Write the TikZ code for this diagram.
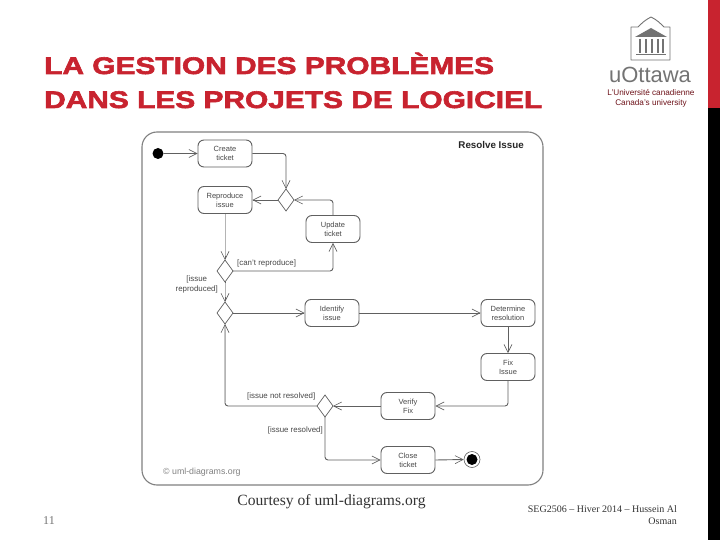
\documentclass[tikz,border=0pt]{standalone}
\usepackage{fontspec}
\setmainfont{Liberation Sans}
\newfontfamily\serifx{Liberation Serif}
\newfontfamily\titlef[FakeStretch=1.245,FakeBold=2.5]{Liberation Sans Bold}
\usetikzlibrary{arrows.meta}
\definecolor{linecol}{HTML}{606060}
\definecolor{lightline}{HTML}{B4B4B4}
\definecolor{lblcol}{HTML}{484848}
\definecolor{uored}{HTML}{C8232F}
\tikzset{
  x=1pt,y=-1pt,
  act/.style={draw=linecol,line width=0.9pt,rounded corners=6pt,minimum width=54pt,minimum height=27pt,inner sep=0pt,align=center,font=\fontsize{7.5}{9}\selectfont,text=lblcol},
  dia/.style={draw=linecol,line width=0.7pt},
  flow/.style={draw=linecol,line width=0.9pt,rounded corners=3pt,-{Straight Barb[length=8pt,width=8pt,line width=0.6pt]}},
  faded/.style={draw=lightline,line width=1pt},
  guard/.style={font=\fontsize{7.9}{9.5}\selectfont,text=lblcol,inner sep=0pt,align=center},
  titletxt/.style={font=\titlef\fontsize{24}{34}\selectfont,text=uored,inner sep=0pt,anchor=base west},
  foot/.style={text=black!80,inner sep=0pt},
  logoln/.style={draw=black!55,line width=0.9pt}
}
\begin{document}
\begin{tikzpicture}
\useasboundingbox (0,0) rectangle (720,540);
\fill[white] (0,0) rectangle (720,540);
% side bar
\fill[uored] (708,0) rectangle (720,108);
\fill[black] (708,108) rectangle (720,540);
% title
\node[titletxt] (t1) at (44,74) {LA GESTION DES PROBLÈMES};
\node[titletxt] (t2) at (44,108) {DANS LES PROJETS DE LOGICIEL};
% logo
\draw[logoln,line join=round] (631,60) -- (631,27) -- (638,27) .. controls (642,23) and (645,20) .. (651,17) .. controls (657,20) and (660,23) .. (664,27) -- (670,27) -- (670,60) -- cycle;
\fill[black!55] (651,28) -- (635,37) -- (667,37) -- cycle;
\draw[black!55,line width=1.2pt] (636,54.5) -- (666,54.5);
\foreach \xx in {640,646,652,658,663}{\draw[black!55,line width=1.5pt] (\xx,39) -- (\xx,53);}
\node[font=\fontsize{22}{22}\selectfont,text=black!55,inner sep=0pt] (logo) at (650,75) {uOttawa};
\node[font=\fontsize{8.2}{10}\selectfont,text=uored!55!black,inner sep=0pt,align=center] (logotxt) at (651,98) {L'Université canadienne\\Canada's university};
% frame
\draw[draw=black!50,line width=1.1pt,rounded corners=15pt] (142,132) rectangle (543,485);
\node[font=\fontsize{9.8}{11}\bfseries\selectfont,text=black!85,inner sep=0pt,anchor=east] (name) at (524,145) {Resolve Issue};
\node[font=\fontsize{8.8}{10}\selectfont,text=black!50,inner sep=0pt,anchor=west] (copy) at (163,472.5) {© uml-diagrams.org};
% nodes
\node[act] (create) at (225,153.5) {Create\\ticket};
\node[act] (repro) at (225,200) {Reproduce\\issue};
\node[act] (update) at (333,229) {Update\\ticket};
\node[act] (identify) at (332,313) {Identify\\issue};
\node[act] (determine) at (508,313) {Determine\\resolution};
\node[act] (fix) at (508,367) {Fix\\Issue};
\node[act] (verify) at (408,406) {Verify\\Fix};
\node[act] (close) at (408,460) {Close\\ticket};
\node[circle,fill=black,minimum size=11pt,inner sep=0pt] (start) at (158,153.5) {};
\node[circle,draw=linecol,line width=0.6pt,minimum size=16pt,inner sep=0pt] (final) at (472,459.5) {};
\node[circle,fill=black,minimum size=11pt,inner sep=0pt] (finalin) at (472,459.5) {};
% diamonds
\newcommand{\mydia}[3]{%
 \coordinate (#1) at (#2,#3);
 \coordinate (#1N) at (#2,#3-11);
 \coordinate (#1S) at (#2,#3+11);
 \coordinate (#1E) at (#2+8,#3);
 \coordinate (#1W) at (#2-8,#3);
 \draw[dia] (#1N) -- (#1E) -- (#1S) -- (#1W) -- cycle;}
\mydia{da}{286}{200}
\mydia{db}{225}{271}
\mydia{dc}{225}{313}
\mydia{dd}{325}{406}
% connectors
\draw[flow] (start) -- (create);
\draw[flow] (create.east) -| (daN);
\draw[flow] (update.north) |- (daE);
\draw[flow] (daW) -- (repro.east);
\draw[flow] (repro.south) -- (dbN);
\draw[flow] (dbE) -| (update.south);
\draw[flow] (dbS) -- (dcN);
\draw[flow] (dcE) -- (identify.west);
\draw[flow] (identify.east) -- (determine.west);
\draw[flow] (determine.south) -- (fix.north);
\draw[flow] (fix.south) |- (verify.east);
\draw[flow] (verify.west) -- (ddE);
\draw[flow] (ddW) -| (dcS);
\draw[flow] (ddS) |- (close.west);
\draw[flow] (close.east) -- (final.west);
% faded stretches of the vertical connectors
\draw[faded] (225,214.5) -- (225,256);
\draw[faded] (225,283) -- (225,297);
\draw[faded] (225,330) -- (225,402);
% guards
\node[guard,anchor=west] (g1) at (237,263.5) {[can't reproduce]};
\node[guard,anchor=east] (g2) at (218,284.5) {[issue\\reproduced]};
\node[guard,anchor=west] (g3) at (247,396) {[issue not resolved]};
\node[guard,anchor=east] (g4) at (323,430) {[issue resolved]};
% footer
\node[foot,font=\serifx\fontsize{15.6}{18}\selectfont] (c) at (331.5,502) {Courtesy of uml-diagrams.org};
\node[foot,font=\serifx\fontsize{12}{14}\selectfont,text=black!55] (n) at (49,521) {11};
\node[foot,font=\serifx\fontsize{10}{12.5}\selectfont,align=right,anchor=east] (f) at (677,515) {SEG2506 – Hiver 2014 – Hussein Al\\Osman};
\end{tikzpicture}
\end{document}
